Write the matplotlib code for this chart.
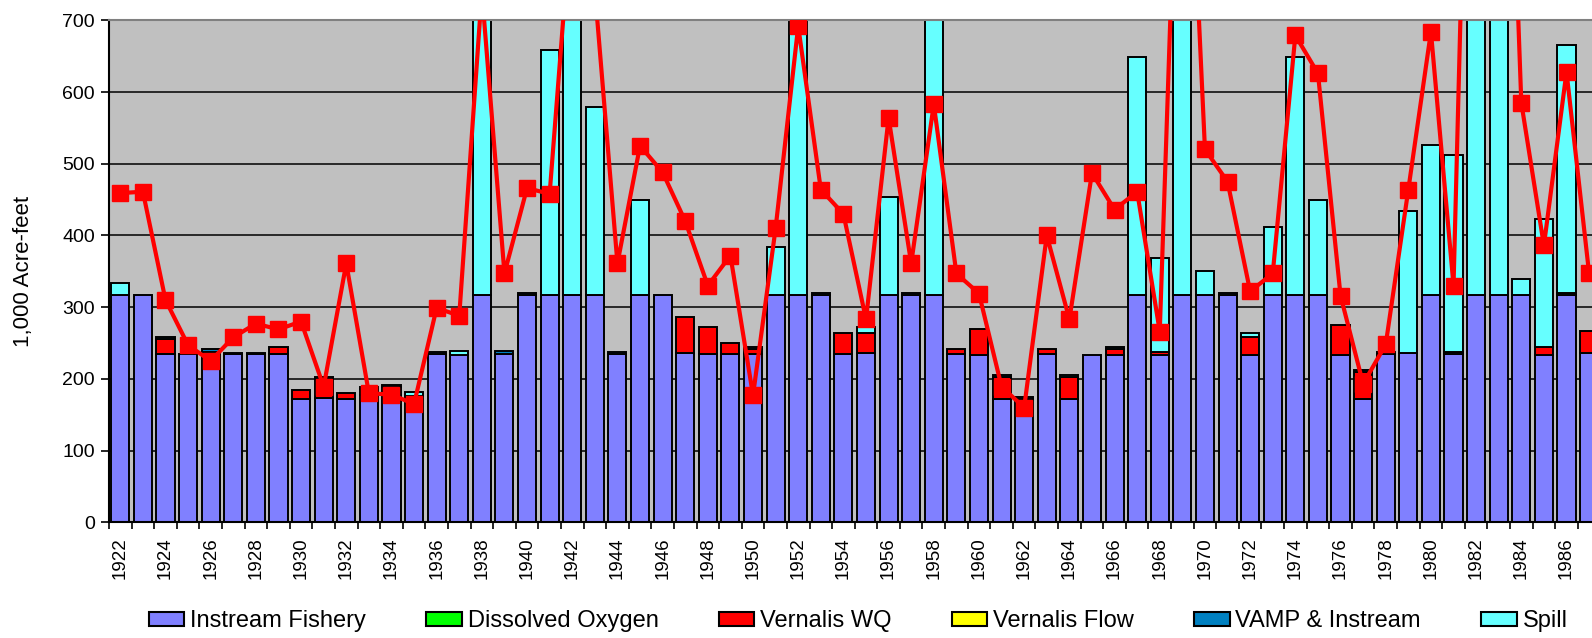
import numpy as np
import matplotlib
matplotlib.use("Agg")
import matplotlib.pyplot as plt
from matplotlib.patches import Patch

plt.rcParams['font.family'] = ['Liberation Sans', 'DejaVu Sans']

years = list(range(1922, 1988))

# 1,000 acre-feet (bars above 700 are clipped, so guessed)
instream_fishery = [
    317, 317, 234, 235, 234, 234, 234, 235, 172, 174,
    172, 178, 178, 172, 234, 233, 317, 235, 317, 317,
    317, 317, 234, 317, 317, 236, 234, 234, 234, 317,
    317, 317, 234, 236, 317, 317, 317, 235, 233, 172,
    172, 235, 172, 233, 233, 317, 233, 317, 317, 317,
    233, 317, 317, 317, 233, 172, 234, 236, 317, 234,
    317, 317, 317, 233, 317, 236]
dissolved_oxygen = [0] * 66
vernalis_wq = [
    0, 0, 21, 0, 3, 0, 0, 10, 13, 26,
    8, 8, 11, 4, 0, 0, 0, 0, 0, 0,
    0, 0, 0, 0, 0, 50, 38, 16, 8, 0,
    0, 0, 30, 28, 0, 0, 0, 6, 37, 31,
    0, 7, 30, 0, 8, 0, 5, 0, 0, 0,
    25, 0, 0, 0, 42, 37, 0, 0, 0, 0,
    0, 0, 0, 11, 0, 31]
vernalis_flow = [0] * 66
vamp_instream = [
    0, 0, 3, 0, 4, 2, 2, 0, 0, 3,
    0, 3, 3, 0, 3, 0, 0, 4, 3, 0,
    0, 0, 4, 0, 0, 0, 0, 0, 3, 0,
    0, 3, 0, 0, 0, 3, 0, 0, 0, 3,
    3, 0, 0, 0, 3, 0, 0, 0, 0, 3,
    0, 0, 0, 0, 0, 3, 3, 0, 0, 3,
    0, 0, 0, 0, 3, 0]
spill = [
    17, 0, 0, 0, 0, 0, 0, 0, 0, 0,
    0, 0, 0, 5, 0, 6, 1000, 0, 0, 341,
    1100, 262, 0, 133, 0, 0, 0, 0, 0, 67,
    900, 0, 0, 8, 136, 0, 800, 0, 0, 0,
    0, 0, 4, 0, 0, 332, 130, 1300, 34, 0,
    6, 95, 332, 133, 0, 0, 0, 198, 209, 275,
    1500, 1300, 22, 179, 346, 0]
total_line = [
    459, 461, 310, 247, 225, 258, 277, 269, 280, 189,
    361, 180, 178, 165, 299, 288, 740, 347, 466, 458,
    863, 742, 361, 525, 488, 420, 330, 372, 177, 410,
    692, 464, 430, 283, 564, 361, 583, 347, 319, 189,
    160, 400, 283, 487, 436, 461, 266, 1200, 520, 475,
    322, 347, 679, 626, 316, 193, 248, 464, 684, 330,
    1550, 1450, 585, 386, 628, 347]

series = [
    ("Instream Fishery", instream_fishery, "#8080FF"),
    ("Dissolved Oxygen", dissolved_oxygen, "#00FF00"),
    ("Vernalis WQ", vernalis_wq, "#FF0000"),
    ("Vernalis Flow", vernalis_flow, "#FFFF00"),
    ("VAMP & Instream", vamp_instream, "#0080C0"),
    ("Spill", spill, "#66FFFF"),
]

fig = plt.figure(figsize=(15.92, 6.38), dpi=100)
# plot area runs past the right edge of the figure, as in the source image
ax = fig.add_axes([109 / 1592, 115.7 / 638, 1514 / 1592, 502 / 638])
ax.set_facecolor("#C0C0C0")

x = np.arange(len(years))
bottom = np.zeros(len(years))
for name, vals, color in series:
    vals = np.array(vals, dtype=float)
    m = vals > 0
    if m.any():
        ax.bar(x[m], vals[m], bottom=bottom[m], width=0.8, color=color,
               edgecolor="black", linewidth=1.4, zorder=2)
    bottom += vals

ax.plot(x, total_line, color="#FF0000", lw=3, marker="s", ms=11,
        mec="#FF0000", zorder=4)

ax.set_xlim(-0.5, 66.5)
ax.set_ylim(0, 700)
ax.set_yticks(range(0, 701, 100))
ax.yaxis.grid(True, color="black", lw=1.1)
ax.set_axisbelow(True)
ax.tick_params(axis="y", direction="out", length=6, width=1.2, labelsize=14, pad=4)

# tick marks between categories, labels under every second year
ax.set_xticks(np.arange(-0.5, 66.5, 1))
ax.set_xticklabels([])
ax.tick_params(axis="x", which="major", direction="out", length=5, width=1.2)
ax.set_xticks(x[::2], minor=True)
ax.set_xticklabels([str(y) for y in years[::2]], minor=True, rotation=90,
                   fontsize=13.5)
ax.tick_params(axis="x", which="minor", length=0, pad=11)

for s in ("left", "bottom"):
    ax.spines[s].set_color("black")
    ax.spines[s].set_linewidth(1.5)
ax.spines["top"].set_color("#808080")
ax.spines["top"].set_linewidth(1.5)
ax.spines["right"].set_visible(False)

ax.set_ylabel("1,000 Acre-feet", fontsize=16)
ax.yaxis.set_label_coords(-0.0495, 0.5)

handles = [Patch(facecolor=c, edgecolor="black", lw=1.5) for _, _, c in series]
fig.legend(handles, [n for n, _, _ in series], loc="center left",
           bbox_to_anchor=(149 / 1592, 1 - 621 / 638), ncol=6, frameon=False,
           fontsize=17, handlelength=1.5, handleheight=0.55, handletextpad=0.25,
           columnspacing=2.55, borderpad=0, borderaxespad=0)

fig.savefig("out.png", dpi=100)
